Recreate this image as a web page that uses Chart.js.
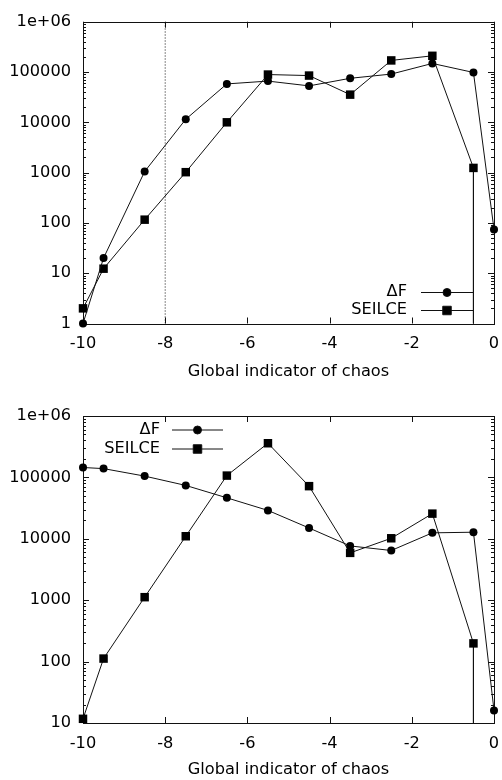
<!DOCTYPE html>
<html>
<head>
<meta charset="utf-8">
<script src="https://cdn.jsdelivr.net/npm/chart.js@4/dist/chart.umd.min.js"></script>
<style>
  html, body { margin: 0; padding: 0; background: #fff; }
  canvas { display: block; }
</style>
</head>
<body>
<canvas id="topChart" width="502" height="390"></canvas>
<canvas id="bottomChart" width="502" height="390"></canvas>
<script>
// x positions (global indicator of chaos)
const xValues = [-10, -9.5, -8.5, -7.5, -6.5, -5.5, -4.5, -3.5, -2.5, -1.5, -0.5, 0];
// SEILCE ends with a drop to the axis at -0.5
const xSeilce = [-10, -9.5, -8.5, -7.5, -6.5, -5.5, -4.5, -3.5, -2.5, -1.5, -0.5, -0.5];

// top panel
const deltaFTop = [1, 20, 1050, 11500, 58000, 66000, 53000, 75000, 91000, 148000, 98000, 74];
const seilceTop = [2, 12.3, 116, 1020, 10000, 89000, 85000, 35500, 170000, 210000, 1240, 1];
const chaosThreshold = -8;

// bottom panel
const deltaFBottom = [145000, 139000, 105000, 74000, 46500, 29000, 15000, 7650, 6450, 12500, 12800, 16];
const seilceBottom = [11.7, 112, 1120, 11000, 107000, 360000, 72000, 5900, 10200, 25700, 198, 10];

const xTickValues = [-10, -8, -6, -4, -2, 0];
const yTickLabelsTop = ['1', '10', '100', '1000', '10000', '100000', '1e+06'];
const yTickLabelsBottom = ['10', '100', '1000', '10000', '100000', '1e+06'];

const FONT = 'DejaVu Sans';
const FONT_SIZE = 16.2;

function pts(xs, ys) {
  return ys.map((y, i) => ({ x: xs[i], y: y }));
}

// gnuplot-like frame with inward ticks on all sides
const frameTicks = {
  id: 'frameTicks',
  beforeDatasetsDraw(chart) {
    const { ctx, chartArea: a, scales: { x, y } } = chart;
    ctx.save();
    ctx.strokeStyle = '#111';
    ctx.lineWidth = 1;
    ctx.strokeRect(Math.round(a.left) + 0.5, Math.round(a.top) + 0.5,
      Math.round(a.right - a.left), Math.round(a.bottom - a.top));
    ctx.beginPath();
    xTickValues.forEach(v => {
      const px = Math.round(x.getPixelForValue(v)) + 0.5;
      ctx.moveTo(px, a.bottom); ctx.lineTo(px, a.bottom - 6);
      ctx.moveTo(px, a.top); ctx.lineTo(px, a.top + 6);
    });
    for (let d = y.min; d < y.max * 1.01; d *= 10) {
      for (let k = 1; k <= 9; k++) {
        const v = d * k;
        if (v > y.max * 1.001) break;
        const py = Math.round(y.getPixelForValue(v)) + 0.5;
        const len = k === 1 ? 6 : 3;
        ctx.moveTo(a.left, py); ctx.lineTo(a.left + len, py);
        ctx.moveTo(a.right, py); ctx.lineTo(a.right - len, py);
      }
    }
    ctx.stroke();
    ctx.restore();
  }
};

// gnuplot-style key: right-aligned text, then sample line with marker
const gnuKey = {
  id: 'gnuKey',
  afterDraw(chart, args, opts) {
    const { ctx } = chart;
    ctx.save();
    ctx.font = FONT_SIZE + 'px "' + FONT + '"';
    ctx.textAlign = 'right';
    ctx.textBaseline = 'middle';
    ctx.fillStyle = '#000';
    opts.items.forEach((idx, row) => {
      const ds = chart.data.datasets[idx];
      const yy = opts.y + row * opts.dy;
      ctx.fillText(ds.label, opts.textX, yy);
      ctx.strokeStyle = ds.borderColor;
      ctx.lineWidth = 1;
      ctx.beginPath();
      ctx.moveTo(opts.lineFrom, yy + 0.5);
      ctx.lineTo(opts.lineTo, yy + 0.5);
      ctx.stroke();
      Chart.helpers.drawPoint(ctx, {
        pointStyle: ds.pointStyle, radius: ds.keyRadius, rotation: 0, borderWidth: 1
      }, (opts.lineFrom + opts.lineTo) / 2, yy + 0.5);
    });
    ctx.restore();
  }
};

function buildChart(id, dfVals, seVals, yMin, yLabels, padTop, padBottom, xHeight, keyOpts, extra) {
  const seRadius = seVals.map((v, i) => i === seVals.length - 1 ? 0 : 6);
  const datasets = [
    {
      label: '\u0394F',
      data: pts(xValues, dfVals),
      borderColor: '#111', backgroundColor: '#000',
      borderWidth: 1, pointStyle: 'circle', pointRadius: 4, keyRadius: 4,
      pointBorderWidth: 0, clip: false
    },
    {
      label: 'SEILCE',
      data: pts(xSeilce, seVals),
      borderColor: '#111', backgroundColor: '#000',
      borderWidth: 1, pointStyle: 'rect', pointRadius: seRadius, keyRadius: 6,
      pointBorderWidth: 0, clip: false
    }
  ];
  if (extra) datasets.push(extra);
  return new Chart(document.getElementById(id).getContext('2d'), {
    type: 'line',
    data: { datasets: datasets },
    plugins: [frameTicks, gnuKey],
    options: {
      responsive: false,
      animation: false,
      layout: { padding: { top: padTop, right: 8, bottom: padBottom, left: 0 } },
      plugins: {
        legend: { display: false },
        tooltip: { enabled: false },
        gnuKey: keyOpts
      },
      scales: {
        x: {
          type: 'linear', min: -10, max: 0,
          grid: { display: false, drawTicks: false },
          border: { display: false },
          afterBuildTicks: s => { s.ticks = xTickValues.map(v => ({ value: v })); },
          afterFit: s => { s.height = xHeight; s.paddingRight = 0; s.paddingLeft = 0; },
          ticks: {
            padding: 11, color: '#000', maxRotation: 0,
            font: { family: FONT, size: FONT_SIZE }
          },
          title: {
            display: true, text: 'Global indicator of chaos', color: '#000',
            padding: 0, font: { family: FONT, size: FONT_SIZE }
          }
        },
        y: {
          type: 'logarithmic', min: yMin, max: 1e6,
          grid: { display: false, drawTicks: false },
          border: { display: false },
          afterBuildTicks: s => {
            s.ticks = yLabels.map((l, i) => ({ value: yMin * Math.pow(10, i) }));
          },
          afterFit: s => { s.width = 83; },
          ticks: {
            padding: 12, color: '#000',
            font: { family: FONT, size: FONT_SIZE },
            callback: (v, i) => yLabels[i]
          }
        }
      }
    }
  });
}

buildChart('topChart', deltaFTop, seilceTop, 1, yTickLabelsTop, 16, 8, 58.5,
  { items: [0, 1], textX: 407, y: 292, dy: 18, lineFrom: 421, lineTo: 473 },
  {
    label: 'threshold',
    data: [{ x: chaosThreshold, y: 1 }, { x: chaosThreshold, y: 1e6 }],
    borderColor: '#111', borderWidth: 1, borderDash: [1, 2],
    pointRadius: 0
  });

buildChart('bottomChart', deltaFBottom, seilceBottom, 10, yTickLabelsBottom, 26, 0, 57,
  { items: [0, 1], textX: 160, y: 39.5, dy: 19, lineFrom: 172, lineTo: 223 },
  null);
</script>
</body>
</html>
